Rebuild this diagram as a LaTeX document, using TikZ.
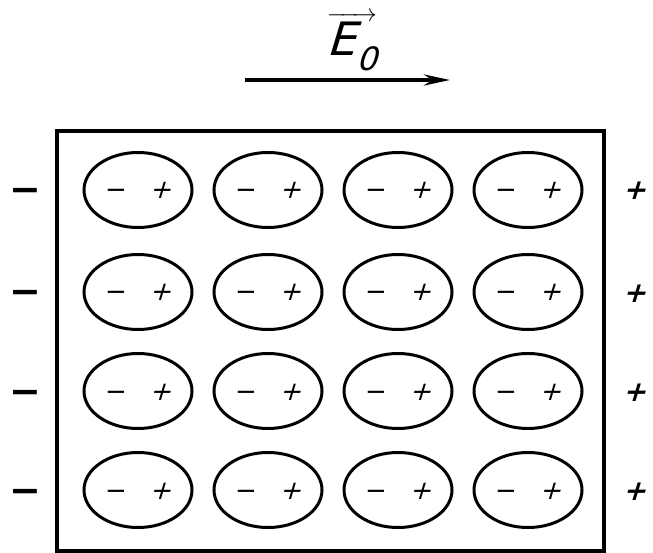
\documentclass[tikz,border=0pt]{standalone}
\usepackage{amsmath}
\usepackage{fontspec}
\newfontfamily\signfont{DejaVu Sans}
\newfontfamily\slantfont[FakeSlant=0.3]{DejaVu Sans}
\usetikzlibrary{
    positioning,
    shapes.geometric,
    arrows.meta
}
\tikzset{
    >=Stealth,
    dipole/.style={
        ellipse,
        draw,
        line width=3pt,
        minimum width=108pt,
        minimum height=75pt,
        inner sep=0pt
    },
    insign/.style={
        inner sep=0pt,
        anchor=base,
        font=\signfont\fontsize{26}{26}\selectfont
    },
    inplus/.style={
        insign,
        font=\slantfont\fontsize{26}{26}\selectfont
    },
    outsign/.style={
        inner sep=0pt,
        anchor=base,
        font=\signfont\bfseries\fontsize{38}{38}\selectfont
    },
    outplus/.style={
        outsign,
        font=\slantfont\bfseries\fontsize{28}{28}\selectfont
    }
}

\begin{document}
\begin{tikzpicture}[
    x=1pt,
    y=-1pt,
    >=Stealth
]

    \useasboundingbox (0,0) rectangle (653,553);

    % Campo externo
    \node[inner sep=1pt] (field) at (352,42)
        {\fontsize{46}{46}\selectfont
         $\overrightarrow{\text{\slantfont E}_{\text{\slantfont 0}}}$};
    \coordinate (fs) at (245,80);
    \coordinate (fe) at (450,80);
    \draw[line width=4pt, -{Stealth[length=26pt, width=11pt]}] (fs) -- (fe);

    % Dielectrico
    \node[draw, line width=3.5pt, minimum width=547pt, minimum height=420pt,
          inner sep=0pt] (slab) at (330.5,341) {};

    % Dipolos
    \foreach \r/\yy in {1/190, 2/292, 3/391, 4/490} {
        \foreach \c/\xx in {1/138, 2/268, 3/398, 4/528} {
            \node[dipole] (d\r\c) at (\xx,\yy) {};
            \node[insign] (m\r\c) at (\xx-22,\yy+9) {−};
            \node[inplus] (p\r\c) at (\xx+22,\yy+9) {+};
        }
        % Cargas ligadas
        \node[outsign] (q\r) at (25,\yy+13) {−};
        \node[outplus] (Q\r) at (634,\yy+10) {+};
    }

\end{tikzpicture}
\end{document}
